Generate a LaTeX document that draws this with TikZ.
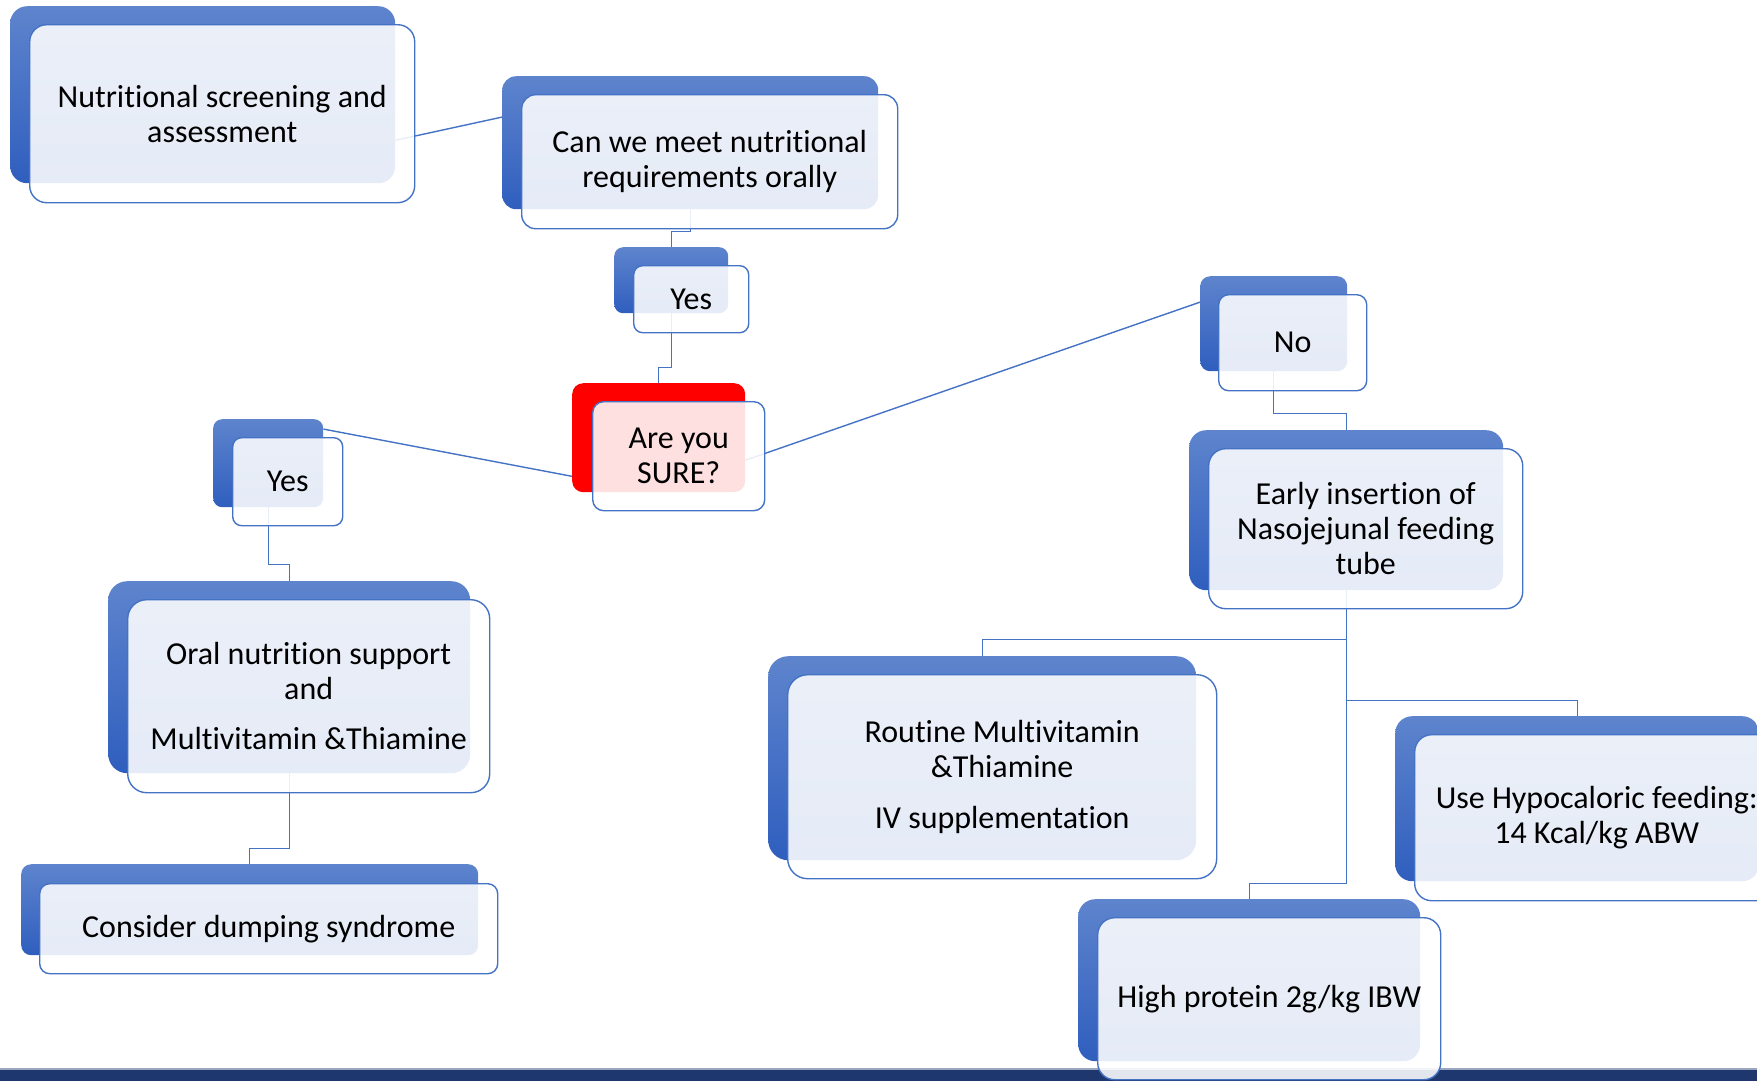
\documentclass[tikz,border=0pt]{standalone}
\usepackage{fontspec}
\setmainfont{Carlito}[Ligatures={NoCommon,NoContextual}, RawFeature={-liga;-clig;-dlig}]
\usetikzlibrary{calc}

\definecolor{lineblue}{HTML}{4472C4}
\definecolor{bluetop}{HTML}{5E84CD}
\definecolor{bluebot}{HTML}{2F5EBE}
\definecolor{alarmred}{HTML}{FF0000}
\definecolor{navyband}{HTML}{1E376E}
\definecolor{bandedge}{HTML}{9AA6BE}

\tikzset{
  backbox/.style={draw=none, inner sep=0pt, top color=bluetop, bottom color=bluebot, rounded corners=#1},
  redbox/.style={draw=none, inner sep=0pt, fill=alarmred, rounded corners=#1},
  frontbox/.style={draw=lineblue, line width=1.4pt, fill=white, fill opacity=0.88, text opacity=1,
    inner sep=0pt, align=center, rounded corners=#1, font=\fontsize{32}{35}\selectfont},
  link/.style={draw=lineblue, line width=1.4pt},
}

\begin{document}
\begin{tikzpicture}[x=1pt, y=-1pt]
\useasboundingbox (0,0) rectangle (1757,1080);
\clip (0,0) rectangle (1757,1080);

% footer band
\fill[navyband] (0,1069) rectangle (1757,1082);
\draw[bandedge, line width=1.5pt] (0,1069) -- (1757,1069);

% back (coloured) cards
\node[backbox=17, anchor=north west, minimum width=385pt, minimum height=177pt] (b1b) at (10,6) {};
\node[backbox=14, anchor=north west, minimum width=376pt, minimum height=133pt] (b2b) at (502,76) {};
\node[backbox=9, anchor=north west, minimum width=114pt, minimum height=66pt] (yes1b) at (614,247) {};
\node[redbox=11, anchor=north west, minimum width=173pt, minimum height=109pt] (sureb) at (572,383) {};
\node[backbox=9, anchor=north west, minimum width=110pt, minimum height=88pt] (yes2b) at (213,419) {};
\node[backbox=19, anchor=north west, minimum width=362pt, minimum height=192pt] (oralb) at (108,581) {};
\node[backbox=10, anchor=north west, minimum width=457pt, minimum height=91pt] (dumpb) at (21,864) {};
\node[backbox=10, anchor=north west, minimum width=147pt, minimum height=95pt] (nob) at (1200,276) {};
\node[backbox=17, anchor=north west, minimum width=314pt, minimum height=160pt] (earlyb) at (1189,430) {};
\node[backbox=20, anchor=north west, minimum width=428pt, minimum height=204pt] (routineb) at (768,656) {};
\node[backbox=17, anchor=north west, minimum width=364pt, minimum height=165pt] (hypob) at (1395,716) {};
\node[backbox=17, anchor=north west, minimum width=342pt, minimum height=162pt] (proteinb) at (1078,899) {};

% connectors
\draw[link] ($(b1b.north east)!0.757!(b1b.south east)$) -- ($(b2b.north west)!0.308!(b2b.south west)$);
\draw[link] (b2b.south) -- ++(0,22) -| (yes1b.north);
\draw[link] (yes1b.south) -- ++(0,54) -| (sureb.north);
\draw[link] ($(sureb.north west)!0.853!(sureb.south west)$) -- ($(yes2b.north east)!0.114!(yes2b.south east)$);
\draw[link] ($(sureb.north east)!0.706!(sureb.south east)$) -- ($(nob.north west)!0.274!(nob.south west)$);
\draw[link] (yes2b.south) -- ++(0,57) -| (oralb.north);
\draw[link] (oralb.south) -- ++(0,75) -| (dumpb.north);
\draw[link] (nob.south) -- ++(0,42) -| (earlyb.north);
\draw[link] (earlyb.south) -- ++(0,49) -| (routineb.north);
\draw[link] (earlyb.south) -- ++(0,110) -| (hypob.north);
\draw[link] (earlyb.south) -- ++(0,293) -| (proteinb.north);

% front (text) cards
\node[frontbox=17, anchor=north west, minimum width=385pt, minimum height=178pt] (b1) at (29,24)
  {Nutritional screening and\\assessment};
\node[frontbox=14, anchor=north west, minimum width=376pt, minimum height=134pt] (b2) at (521,94)
  {Can we meet nutritional\\requirements orally};
\node[frontbox=9, anchor=north west, minimum width=115pt, minimum height=67pt] (yes1) at (633,265)
  {Yes};
\node[frontbox=11, anchor=north west, minimum width=172pt, minimum height=109pt] (sure) at (592,401)
  {Are you\\SURE?};
\node[frontbox=9, anchor=north west, minimum width=110pt, minimum height=88pt] (yes2) at (232,437)
  {Yes};
\node[frontbox=19, anchor=north west, minimum width=362pt, minimum height=193pt] (oral) at (127,599)
  {Oral nutrition support\\and\\[15pt]Multivitamin \&Thiamine};
\node[frontbox=10, anchor=north west, minimum width=458pt, minimum height=90pt] (dump) at (39,883)
  {Consider dumping syndrome};
\node[frontbox=10, anchor=north west, minimum width=148pt, minimum height=96pt] (no) at (1218,294)
  {No};
\node[frontbox=17, anchor=north west, minimum width=314pt, minimum height=160pt] (early) at (1208,448)
  {Early insertion of\\Nasojejunal feeding\\tube};
\node[frontbox=20, anchor=north west, minimum width=429pt, minimum height=204pt] (routine) at (787,674)
  {Routine Multivitamin\\\&Thiamine\\[16pt]IV supplementation};
\node[frontbox=17, anchor=north west, minimum width=364pt, minimum height=166pt] (hypo) at (1414,734)
  {Use Hypocaloric feeding:\\14 Kcal/kg ABW};
\node[frontbox=17, anchor=north west, minimum width=343pt, minimum height=162pt] (protein) at (1097,917)
  {High protein 2g/kg IBW};
\end{tikzpicture}
\end{document}
